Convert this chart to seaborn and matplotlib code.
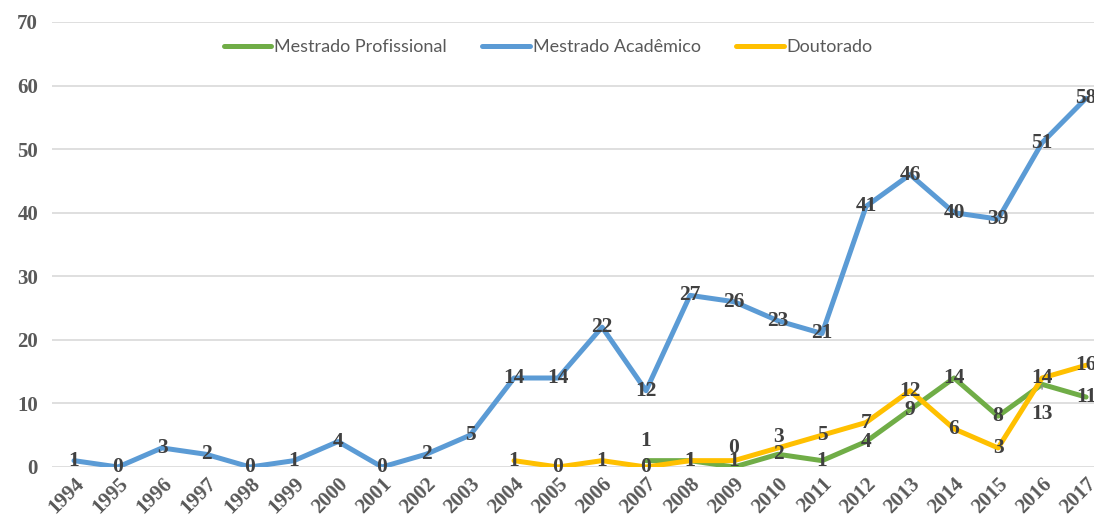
import matplotlib
matplotlib.use("Agg")
import matplotlib.pyplot as plt
import seaborn as sns
import pandas as pd

years = list(range(1994, 2018))
mestrado_academico = [1, 0, 3, 2, 0, 1, 4, 0, 2, 5, 14, 14, 22, 12, 27, 26, 23, 21, 41, 46, 40, 39, 51, 58]
doutorado_years = list(range(2004, 2018))
doutorado = [1, 0, 1, 0, 1, 1, 3, 5, 7, 12, 6, 3, 14, 16]
profissional_years = list(range(2007, 2018))
mestrado_profissional = [1, 1, 0, 2, 1, 4, 9, 14, 8, 13, 11]

series_order = ["Mestrado Profissional", "Mestrado Acadêmico", "Doutorado"]
colors = {"Mestrado Profissional": "#70AD47", "Mestrado Acadêmico": "#5B9BD5", "Doutorado": "#FFC000"}

df = pd.concat([
    pd.DataFrame({"ano": profissional_years, "valor": mestrado_profissional, "serie": "Mestrado Profissional"}),
    pd.DataFrame({"ano": years, "valor": mestrado_academico, "serie": "Mestrado Acadêmico"}),
    pd.DataFrame({"ano": doutorado_years, "valor": doutorado, "serie": "Doutorado"}),
], ignore_index=True)

sns.set_style("white")
plt.rcParams["font.family"] = ["Liberation Serif", "DejaVu Serif"]

fig = plt.figure(figsize=(10.94, 5.24), dpi=100)
ax = fig.add_axes([52 / 1094, 1 - 467 / 524, 1 - 52 / 1094, 445 / 524])

sns.lineplot(data=df, x="ano", y="valor", hue="serie", hue_order=series_order,
             palette=colors, linewidth=3.6, ax=ax, legend=False, zorder=3)

# label offsets (points) where Excel moved the label off the marker
offsets = {
    ("Mestrado Profissional", 2007): (0, 14),
    ("Mestrado Profissional", 2009): (0, 14),
    ("Doutorado", 2010): (0, 8),
    ("Mestrado Profissional", 2016): (0, -21),
}
label_style = dict(ha="center", va="center", fontsize=15.5, fontweight="bold",
                   color="#404040", annotation_clip=False, zorder=5)
for _, row in df.iterrows():
    key = (row["serie"], row["ano"])
    dx, dy = offsets.get(key, (0, 0))
    extra = {}
    if key == ("Mestrado Profissional", 2016):
        extra["arrowprops"] = dict(arrowstyle="-", color="#8c8c8c", lw=1, shrinkA=8, shrinkB=1)
    ax.annotate(str(int(row["valor"])), (row["ano"], row["valor"]), xytext=(dx, dy),
                textcoords="offset points", **label_style, **extra)

ax.set_xlim(1993.5, 2017.18)
ax.set_ylim(0, 70)
ax.set_yticks(range(0, 71, 10))
ax.set_xticks(years)
ax.set_xticklabels([str(y) for y in years], rotation=45, ha="right", rotation_mode="anchor")
ax.tick_params(axis="both", length=0, labelsize=15, labelcolor="#595959")
ax.tick_params(axis="x", pad=5)
ax.tick_params(axis="y", pad=10)
for lab in ax.get_xticklabels() + ax.get_yticklabels():
    lab.set_fontweight("bold")
ax.yaxis.grid(True, color="#d9d9d9", linewidth=1.2)
ax.set_axisbelow(True)
for s in ax.spines.values():
    s.set_visible(False)
ax.set_xlabel("")
ax.set_ylabel("")

handles = [plt.Line2D([], [], color=colors[s], linewidth=3.6) for s in series_order]
leg = ax.legend(handles, series_order, loc="upper center", bbox_to_anchor=(0.476, 1.0), ncol=3,
                frameon=False, handlelength=2.65, handletextpad=0.15, columnspacing=1.95,
                borderaxespad=0.55, prop={"family": ["Lato", "DejaVu Sans"], "size": 13})
for t in leg.get_texts():
    t.set_color("#595959")

fig.savefig("out.png", dpi=100)
